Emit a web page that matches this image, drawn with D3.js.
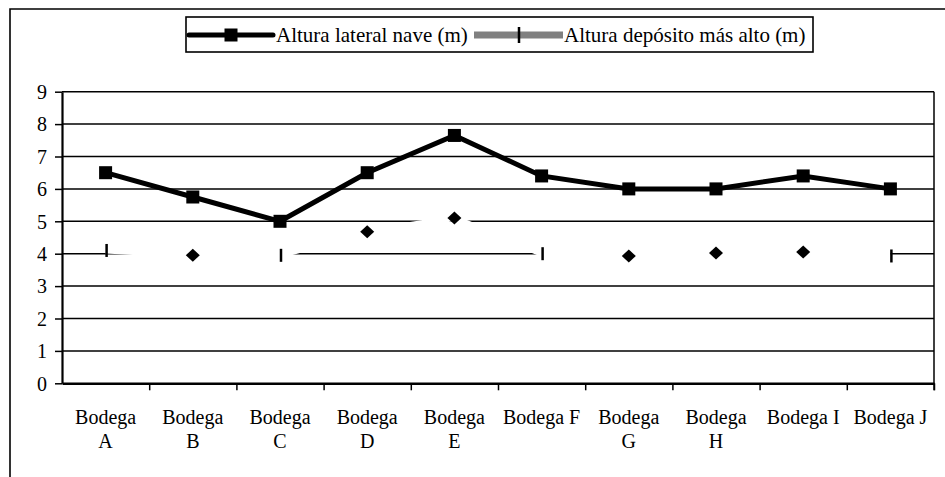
<!DOCTYPE html>
<html>
<head>
<meta charset="utf-8">
<script src="https://cdn.jsdelivr.net/npm/d3@7"></script>
<style>
  html, body { margin: 0; padding: 0; background: #fff; }
  svg { display: block; }
  text { font-family: "Liberation Serif", "Times New Roman", serif; fill: #000; }
</style>
</head>
<body>
<svg id="chart" width="945" height="477"></svg>
<script>
// Heights per winery (metres)
const categories = ["Bodega A", "Bodega B", "Bodega C", "Bodega D", "Bodega E",
                    "Bodega F", "Bodega G", "Bodega H", "Bodega I", "Bodega J"];
const xTickLabels = [["Bodega", "A"], ["Bodega", "B"], ["Bodega", "C"], ["Bodega", "D"],
                     ["Bodega", "E"], ["Bodega F"], ["Bodega", "G"], ["Bodega", "H"],
                     ["Bodega I"], ["Bodega J"]];
const alturaLateral = [6.5, 5.75, 5.0, 6.5, 7.65, 6.4, 6.0, 6.0, 6.4, 6.0];
const alturaDeposito = [4.1, 3.95, 3.95, 4.68, 5.1, 4.0, 3.93, 4.02, 4.05, 3.93];
const depositoMarker = ["dash", "diamond", "dash", "diamond", "diamond",
                        "dash", "diamond", "diamond", "diamond", "dash"];
const yTicks = [0, 1, 2, 3, 4, 5, 6, 7, 8, 9];
const seriesNames = ["Altura lateral nave (m)", "Altura depósito más alto (m)"];

const svg = d3.select("#chart");
const plot = { left: 62, right: 934, top: 91.7, bottom: 383.3 };

const x = d3.scaleBand().domain(categories).range([plot.left, plot.right]).padding(0);
const xEdge = d3.scaleLinear().domain([0, categories.length]).range([plot.left, plot.right]);
const y = d3.scaleLinear().domain([0, 9]).range([plot.bottom, plot.top]);
const cx = d => x(d) + x.bandwidth() / 2;

// outer frame (left and top edges)
svg.append("path")
  .attr("d", "M10,477 L10,9 L945,9")
  .attr("fill", "none").attr("stroke", "#000").attr("stroke-width", 1.6);

// horizontal gridlines
svg.append("g").selectAll("line")
  .data(yTicks.filter(v => v > 0))
  .join("line")
  .attr("x1", plot.left).attr("x2", plot.right)
  .attr("y1", d => y(d)).attr("y2", d => y(d))
  .attr("stroke", "#000").attr("stroke-width", 1.5);

// right edge of the plot area
svg.append("line")
  .attr("x1", plot.right).attr("x2", plot.right)
  .attr("y1", plot.top).attr("y2", plot.bottom + 7)
  .attr("stroke", "#000").attr("stroke-width", 1.5);

// y axis
const yAxis = svg.append("g")
  .attr("transform", `translate(${plot.left},0)`)
  .call(d3.axisLeft(y).tickValues(yTicks).tickSize(7).tickSizeOuter(0).tickFormat(d3.format("d")));
yAxis.attr("font-family", null);
yAxis.select(".domain").attr("stroke", "#000").attr("stroke-width", 2.2);
yAxis.selectAll(".tick line").attr("stroke", "#000").attr("stroke-width", 1.5);
yAxis.selectAll(".tick text")
  .attr("x", -15).attr("dy", "0.34em")
  .style("font-size", "20px").style("font-family", "Liberation Serif");

// x axis line with ticks at category boundaries
const xAxis = svg.append("g")
  .attr("transform", `translate(0,${plot.bottom})`)
  .call(d3.axisBottom(xEdge).tickValues(d3.range(1, categories.length + 1))
    .tickSize(7).tickSizeOuter(0).tickFormat(""));
xAxis.select(".domain").attr("stroke", "#000").attr("stroke-width", 2.5);
xAxis.selectAll(".tick line").attr("stroke", "#000").attr("stroke-width", 1.5);

// x labels
const xLabels = svg.append("g").selectAll("text")
  .data(categories)
  .join("text")
  .attr("x", d => cx(d))
  .attr("y", 424)
  .attr("text-anchor", "middle")
  .style("font-size", "20px");
xLabels.each(function (d, i) {
  const t = d3.select(this);
  xTickLabels[i].forEach((part, j) => {
    t.append("tspan").attr("x", cx(d)).attr("dy", j === 0 ? 0 : 24).text(part);
  });
});

// second series line (drawn white, it masks the gridlines beneath)
const idx = d3.range(categories.length);
svg.append("path")
  .datum(idx)
  .attr("fill", "none")
  .attr("stroke", "#fff")
  .attr("stroke-width", 6)
  .attr("d", d3.line().x(i => cx(categories[i])).y(i => y(alturaDeposito[i])));

// first series line
svg.append("path")
  .datum(idx)
  .attr("fill", "none")
  .attr("stroke", "#000")
  .attr("stroke-width", 5)
  .attr("stroke-linejoin", "miter")
  .attr("d", d3.line().x(i => cx(categories[i])).y(i => y(alturaLateral[i])));

// square markers
svg.append("g").selectAll("rect")
  .data(idx)
  .join("rect")
  .attr("x", i => cx(categories[i]) - 6.5)
  .attr("y", i => y(alturaLateral[i]) - 6.5)
  .attr("width", 13).attr("height", 13)
  .attr("fill", "#000");

// markers of the second series
const m2 = svg.append("g");
idx.forEach(i => {
  const px = cx(categories[i]), py = y(alturaDeposito[i]);
  if (depositoMarker[i] === "dash") {
    m2.append("line")
      .attr("x1", px + 1).attr("x2", px + 1)
      .attr("y1", py - 6.5).attr("y2", py + 6.5)
      .attr("stroke", "#000").attr("stroke-width", 2.5);
  } else {
    m2.append("path")
      .attr("d", `M${px},${py - 6.5} L${px + 7},${py} L${px},${py + 6.5} L${px - 7},${py} Z`)
      .attr("fill", "#000");
  }
});

// legend
const lg = svg.append("g");
lg.append("rect")
  .attr("x", 186).attr("y", 17).attr("width", 627).attr("height", 35)
  .attr("fill", "#fff").attr("stroke", "#000").attr("stroke-width", 1.6);
const ly = 35;
lg.append("line").attr("x1", 189).attr("x2", 273).attr("y1", ly).attr("y2", ly)
  .attr("stroke", "#000").attr("stroke-width", 5).attr("stroke-linecap", "round");
lg.append("rect").attr("x", 224.5).attr("y", ly - 6.5).attr("width", 13).attr("height", 13)
  .attr("fill", "#000");
lg.append("text").attr("x", 276).attr("y", ly + 7).style("font-size", "21px").text(seriesNames[0]);
lg.append("line").attr("x1", 474).attr("x2", 563).attr("y1", ly).attr("y2", ly)
  .attr("stroke", "#808080").attr("stroke-width", 7);
lg.append("line").attr("x1", 519).attr("x2", 519).attr("y1", ly - 8).attr("y2", ly + 8)
  .attr("stroke", "#000").attr("stroke-width", 2.5);
lg.append("text").attr("x", 564).attr("y", ly + 7).style("font-size", "21px").text(seriesNames[1]);
</script>
</body>
</html>
